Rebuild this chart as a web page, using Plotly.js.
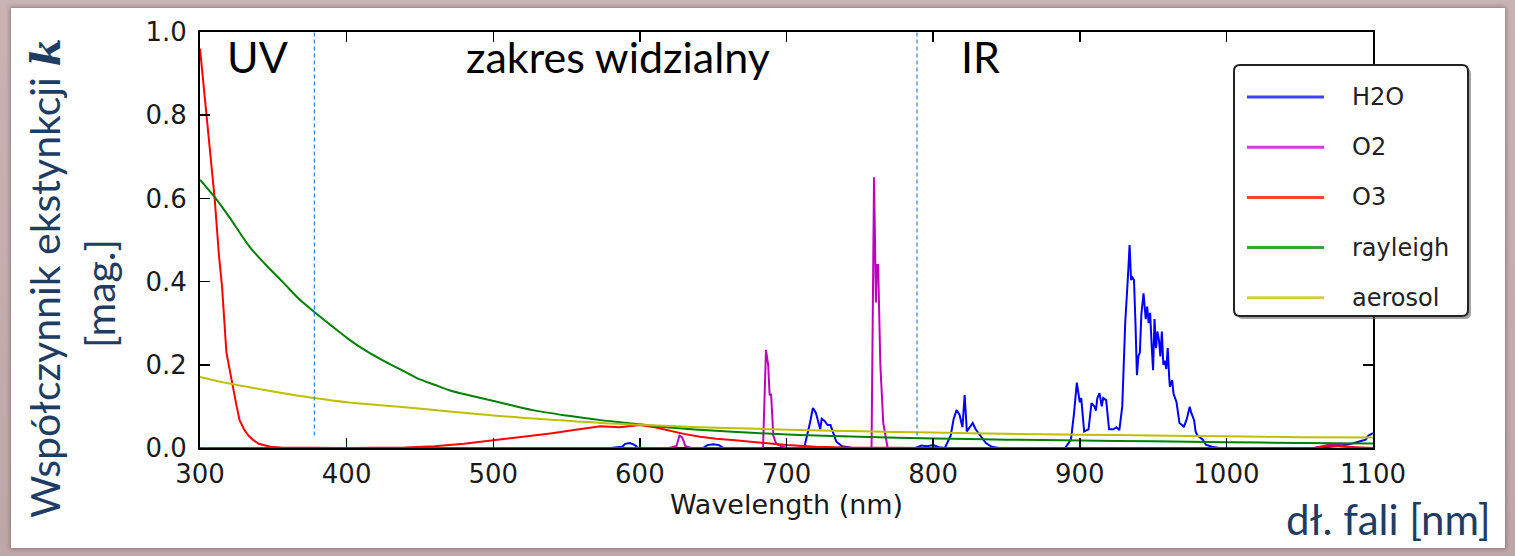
<!DOCTYPE html>
<html>
<head>
<meta charset="utf-8">
<script src="https://cdn.plot.ly/plotly-3.0.1.min.js"></script>
<style>
  html, body { margin:0; padding:0; width:1515px; height:556px; overflow:hidden;
    background: linear-gradient(180deg, #c9b3b5 0%, #bfa7a9 100%); }
  #frame { position:absolute; left:11px; top:8px; width:1494px; height:540px; background:#ffffff;
    box-shadow: 0 0 4px 1px rgba(90,50,55,0.45); }
  #chart { width:1494px; height:540px; }
</style>
</head>
<body>
<div id="frame"><div id="chart"></div></div>
<script>
// ---- data ----
const seriesNames  = ['H2O', 'O2', 'O3', 'rayleigh', 'aerosol'];
const seriesColors = ['#0000ff', '#bf00bf', '#ff0000', '#008000', '#bfbf00'];

const h2oX = [300,580,588,590,593,596,599,643,646,650,654,657,700,712,716,718,720,722,723,724,726,728,730,732,734,738,745,788,792,796,800,804,808,812,814,816,818,820,821.5,823,825,827,829,831,833,836,840,845,890,894,896,898,900,901,903,906,908,910,911,912,913.5,915,916,918,919,920,923,925,927,929,931,932,933,934,935,936,937,938,939,940,941,942,943.5,945,946,947,948,949,950,951,952,953,954,955,956,957,958,959,960,961,961.5,963,964,966,967,968,970,971,973,975,976,978,979,980,982,984,986,990,995,1060,1075,1085,1090,1095,1097,1100];
const h2oY = [0,0,0.003,0.01,0.012,0.008,0,0,0.007,0.009,0.007,0,0,0,0.06,0.096,0.085,0.06,0.045,0.07,0.065,0.055,0.055,0.035,0.015,0.004,0,0,0.006,0.004,0.007,0.002,0,0.03,0.07,0.091,0.08,0.05,0.127,0.04,0.05,0.06,0.045,0.035,0.025,0.012,0.003,0,0,0.02,0.08,0.157,0.11,0.12,0.04,0.045,0.108,0.1,0.09,0.12,0.132,0.1,0.12,0.115,0.08,0.045,0.045,0.05,0.043,0.1,0.3,0.38,0.42,0.488,0.404,0.41,0.404,0.3,0.175,0.22,0.23,0.32,0.372,0.31,0.34,0.3,0.325,0.25,0.187,0.31,0.24,0.28,0.26,0.22,0.28,0.2,0.21,0.19,0.24,0.17,0.147,0.163,0.13,0.11,0.08,0.06,0.055,0.05,0.07,0.099,0.085,0.067,0.04,0.032,0.025,0.02,0.008,0.003,0,0,0.004,0.01,0.015,0.02,0.03,0.036];

const o2X = [300,620,625,627,629,631,635,684,686,687.5,688.5,689.5,691,693,696,700,758,759.7,761,761.5,762.5,764,766,769,1060,1070,1075,1080,1090,1100];
const o2Y = [0,0,0.005,0.03,0.025,0.005,0,0,0.236,0.2,0.127,0.13,0.03,0.01,0.005,0,0,0.651,0.35,0.44,0.44,0.2,0.06,0,0,0.008,0.01,0.005,0,0];

const o3X = [300,302,304.5,307,310,313,315,318,320,322,325,327,330,333,336,340,343,348,355,400,440,460,480,505,520,539,555,573,586,600,610,618,630,641,652,663,675,686,700,720,740,800,1060,1070,1080,1100];
const o3Y = [0.96,0.89,0.79,0.7,0.6,0.46,0.39,0.23,0.19,0.156,0.1,0.067,0.045,0.03,0.02,0.01,0.007,0.003,0.001,0,0.001,0.004,0.01,0.02,0.027,0.035,0.043,0.052,0.05,0.055,0.05,0.043,0.034,0.027,0.022,0.019,0.015,0.012,0.007,0.003,0.001,0,0,0.006,0.003,0];

const rayX = [300,311.6,320,334,345,357,367,378,390,402,413,425,436,448,460,470,482,504,527,550,573,600,618,640,663,690,709,750,800,850,900,950,1000,1050,1100];
const rayY = [0.645,0.596,0.555,0.483,0.44,0.397,0.36,0.327,0.293,0.26,0.234,0.21,0.19,0.168,0.152,0.139,0.128,0.11,0.091,0.078,0.067,0.057,0.05,0.044,0.039,0.034,0.031,0.027,0.023,0.02,0.018,0.016,0.014,0.012,0.011];

const aerX = [300,320,340,360,378,400,436,470,504,540,573,600,640,680,709,750,800,850,900,950,1000,1050,1100];
const aerY = [0.171,0.155,0.142,0.13,0.12,0.11,0.099,0.088,0.077,0.068,0.06,0.056,0.05,0.046,0.043,0.04,0.037,0.034,0.032,0.03,0.028,0.026,0.025];

const xTickVals = [300,400,500,600,700,800,900,1000,1100];
const yTickVals = [0.0,0.2,0.4,0.6,0.8,1.0];
const regionBounds = [378, 789];
const regionLabels = ['UV', 'zakres widzialny', 'IR'];
const regionLabelX = [339.5, 585, 832.5];

const xs = [h2oX, o2X, o3X, rayX, aerX];
const ys = [h2oY, o2Y, o3Y, rayY, aerY];
const smooth = [false, false, false, true, true];

// ---- traces ----
const traces = seriesNames.map((n, i) => ({
  type: 'scatter', mode: 'lines', name: n, x: xs[i], y: ys[i],
  line: { color: seriesColors[i], width: 2, shape: smooth[i] ? 'spline' : 'linear', smoothing: 0.8 },
  showlegend: false, hoverinfo: 'skip'
}));

// ---- layout helpers (pixel geometry of the plot area) ----
const PW = 1173, PH = 416;
const px = p => p / PW, py = p => p / PH;

const shapes = [];
regionBounds.forEach(b => shapes.push({
  type: 'line', xref: 'x', yref: 'y', x0: b, x1: b, y0: 0.03, y1: 1.0,
  line: { color: '#3b7fd6', width: 1.2, dash: '4px,3px' }, layer: 'above'
}));

// custom legend box (rounded, with shadow)
const lx0 = px(1034), lx1 = px(1268), ly0 = 1 - py(251 + 65 - 32), ly1 = 1 - py(65 - 32);
function rrect(x0, x1, y0, y1, rpx) {
  const rx = px(rpx), ry = py(rpx);
  return `M ${x0+rx} ${y1} L ${x1-rx} ${y1} Q ${x1} ${y1} ${x1} ${y1-ry} L ${x1} ${y0+ry} Q ${x1} ${y0} ${x1-rx} ${y0} ` +
         `L ${x0+rx} ${y0} Q ${x0} ${y0} ${x0} ${y0+ry} L ${x0} ${y1-ry} Q ${x0} ${y1} ${x0+rx} ${y1} Z`;
}
shapes.push({ type: 'path', xref: 'paper', yref: 'paper', path: rrect(lx0 + px(3), lx1 + px(3), ly0 - py(3), ly1 - py(3), 6),
  fillcolor: 'rgba(90,90,90,0.55)', line: { width: 0 }, layer: 'above' });
shapes.push({ type: 'path', xref: 'paper', yref: 'paper', path: rrect(lx0, lx1, ly0, ly1, 6),
  fillcolor: '#ffffff', line: { color: '#222222', width: 2 }, layer: 'above' });

const annotations = [];
seriesNames.forEach((n, i) => {
  const yc = 1 - py(97 - 32 + 50.2 * i);
  shapes.push({ type: 'line', xref: 'paper', yref: 'paper', x0: px(1047), x1: px(1124), y0: yc, y1: yc,
    line: { color: seriesColors[i], width: 3 }, opacity: 0.75, layer: 'above' });
  annotations.push({ xref: 'paper', yref: 'paper', x: px(1150), y: yc, xanchor: 'left', yanchor: 'middle',
    text: n, showarrow: false, font: { family: 'DejaVu Sans', size: 24, color: '#222222' } });
});

regionLabels.forEach((t, i) => annotations.push({
  xref: 'x', yref: 'y', x: regionLabelX[i], y: 0.94, xanchor: 'center', yanchor: 'middle',
  text: t, showarrow: false, font: { family: 'Lato', size: 43, color: '#000000' }
}));

const navy = '#1f3d63';
annotations.push({ xref: 'paper', yref: 'paper', x: px(45 - 200), y: py(448 - 278), xanchor: 'center', yanchor: 'middle',
  textangle: -90, showarrow: false,
  text: 'Współczynnik ekstynkcji <span style="font-family:\'DejaVu Serif\'"><b><i>k</i></b></span>',
  font: { family: 'Lato', size: 41, color: navy } });
annotations.push({ xref: 'paper', yref: 'paper', x: px(99 - 200), y: py(448 - 294), xanchor: 'center', yanchor: 'middle',
  textangle: -90, showarrow: false, text: '[mag.]', font: { family: 'Lato', size: 41, color: navy } });
annotations.push({ xref: 'paper', yref: 'paper', x: px(1388 - 200), y: py(448 - 519), xanchor: 'center', yanchor: 'middle',
  showarrow: false, text: 'dł. fali [nm]', font: { family: 'Lato', size: 42, color: navy } });

const tickFont = { family: 'DejaVu Sans', size: 26, color: '#1a1a1a' };
const layout = {
  width: 1494, height: 540,
  margin: { l: 189, r: 132, t: 24, b: 100, pad: 0 },
  paper_bgcolor: 'rgba(0,0,0,0)', plot_bgcolor: '#ffffff',
  showlegend: false,
  xaxis: {
    range: [300, 1100], tickvals: xTickVals, ticktext: xTickVals.map(String),
    showgrid: false, zeroline: false, showline: true, linecolor: '#000000', linewidth: 2,
    mirror: 'ticks', ticks: 'inside', ticklen: 10, tickwidth: 1.5, tickcolor: '#000000',
    tickfont: tickFont, ticklabelstandoff: 2,
    title: { text: 'Wavelength (nm)', font: { family: 'DejaVu Sans', size: 27, color: '#1a1a1a' }, standoff: 4 }
  },
  yaxis: {
    range: [0, 1.0], tickvals: yTickVals, ticktext: yTickVals.map(v => v.toFixed(1)),
    showgrid: false, zeroline: false, showline: true, linecolor: '#000000', linewidth: 2,
    mirror: 'ticks', ticks: 'inside', ticklen: 10, tickwidth: 1.5, tickcolor: '#000000',
    tickfont: tickFont, ticklabelstandoff: 6
  },
  shapes: shapes,
  annotations: annotations
};

Plotly.newPlot('chart', traces, layout, { staticPlot: true, displayModeBar: false });
</script>
</body>
</html>
